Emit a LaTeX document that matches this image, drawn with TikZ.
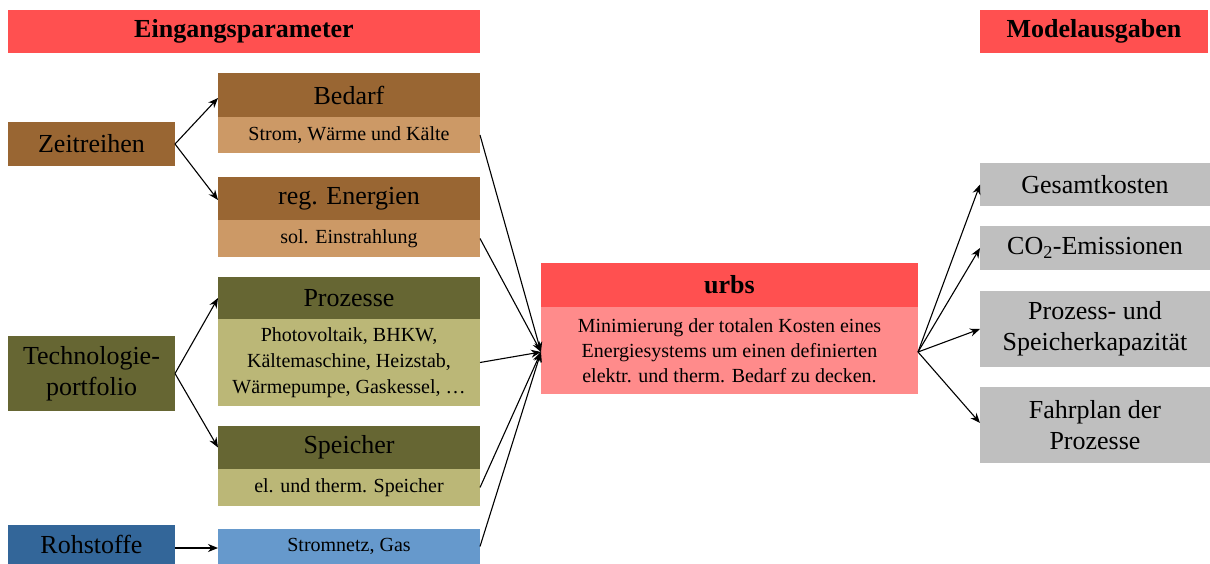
\documentclass[tikz,border=0pt]{standalone}
\usepackage{fontspec}
\setmainfont{Liberation Serif}
\usetikzlibrary{arrows.meta}
\definecolor{hred}{HTML}{FF5050}
\definecolor{lred}{HTML}{FF8B8B}
\definecolor{dbrown}{HTML}{996633}
\definecolor{lbrown}{HTML}{CC9966}
\definecolor{dolive}{HTML}{666633}
\definecolor{lolive}{HTML}{BBB777}
\definecolor{dblue}{HTML}{336699}
\definecolor{lblue}{HTML}{6699CC}
\definecolor{gbox}{HTML}{BFBFBF}
\tikzset{
  box/.style={anchor=north west, inner sep=0pt, outer sep=0pt, align=center, draw=none},
  big/.style={font=\fontsize{26}{31}\selectfont},
  small/.style={font=\fontsize{20}{26}\selectfont},
  conn/.style={-{Stealth[length=10pt,width=8pt]}, line width=1.1pt},
}
\begin{document}
\begin{tikzpicture}[x=1pt,y=-1pt]
\useasboundingbox (0,0) rectangle (1210,564);
% headers
\node[box, big, fill=hred, minimum width=472, minimum height=43] (headL) at (8,10) {\textbf{Eingangsparameter}};
\node[box, big, fill=hred, minimum width=228, minimum height=43] (headR) at (980,10) {\textbf{Modelausgaben}};
% left column
\node[box, big, fill=dbrown, minimum width=167, minimum height=44] (zeit) at (8,122) {Zeitreihen};
\node[box, big, fill=dolive, minimum width=167, minimum height=75] (tech) at (8,336) {Technologie-\\portfolio};
\node[box, big, fill=dblue, minimum width=167, minimum height=39] (roh) at (8,525) {\raisebox{-3pt}{Rohstoffe}};
% middle column
\node[box, big, fill=dbrown, minimum width=262, minimum height=44] (bedD) at (218,73) {Bedarf};
\node[box, small, fill=lbrown, minimum width=262, minimum height=36] (bedL) at (218,117) {Strom, Wärme und Kälte};
\node[box, big, fill=dbrown, minimum width=262, minimum height=43] (regD) at (218,177) {reg. Energien};
\node[box, small, fill=lbrown, minimum width=262, minimum height=37] (regL) at (218,220) {sol. Einstrahlung};
\node[box, big, fill=dolive, minimum width=262, minimum height=42] (proD) at (218,277) {Prozesse};
\node[box, small, fill=lolive, minimum width=262, minimum height=87] (proL) at (218,319) {Photovoltaik, BHKW,\\Kältemaschine, Heizstab,\\Wärmepumpe, Gaskessel, \dots};
\node[box, big, fill=dolive, minimum width=262, minimum height=43] (speD) at (218,426) {Speicher};
\node[box, small, fill=lolive, minimum width=262, minimum height=37] (speL) at (218,469) {el. und therm. Speicher};
\node[box, small, fill=lblue, minimum width=262, minimum height=35] (strom) at (218,529) {\raisebox{-2pt}{Stromnetz, Gas}};
% urbs
\node[box, big, fill=hred, minimum width=377, minimum height=44] (urbsD) at (541,263) {\textbf{urbs}};
\node[box, small, fill=lred, minimum width=377, minimum height=87, font=\fontsize{20}{25}\selectfont] (urbsL) at (541,307) {Minimierung der totalen Kosten eines\\Energiesystems um einen definierten\\elektr. und therm. Bedarf zu decken.};
% outputs
\node[box, big, fill=gbox, minimum width=230, minimum height=43] (ges) at (980,163) {Gesamtkosten};
\node[box, big, fill=gbox, minimum width=230, minimum height=44] (co2) at (980,226) {CO\textsubscript{2}-Emissionen};
\node[box, big, fill=gbox, minimum width=230, minimum height=76] (kap) at (980,291) {Prozess- und\\Speicherkapazität};
\node[box, big, fill=gbox, minimum width=230, minimum height=76] (fahr) at (980,387) {Fahrplan der\\Prozesse};
% connectors
\coordinate (in) at ([yshift=-1.5pt]urbsL.west);
\draw[conn] (zeit.east) -- ([yshift=-3pt]bedD.west);
\draw[conn] (zeit.east) -- ([yshift=-1.5pt]regD.west);
\draw[conn] (tech.east) -- (proD.west);
\draw[conn] (tech.east) -- (speD.west);
\draw[conn] ([yshift=-3.5pt]roh.east) -- ([yshift=-1.5pt]strom.west);
\draw[conn] (bedL.east) -- (in);
\draw[conn] (regL.east) -- (in);
\draw[conn] (proL.east) -- (in);
\draw[conn] (speL.east) -- (in);
\draw[conn] (strom.east) -- (in);
\draw[conn] ([yshift=-1.5pt]urbsL.east) -- (ges.west);
\draw[conn] ([yshift=-1.5pt]urbsL.east) -- (co2.west);
\draw[conn] ([yshift=-1.5pt]urbsL.east) -- (kap.west);
\draw[conn] ([yshift=-1.5pt]urbsL.east) -- ([yshift=2pt]fahr.west);
\end{tikzpicture}
\end{document}
